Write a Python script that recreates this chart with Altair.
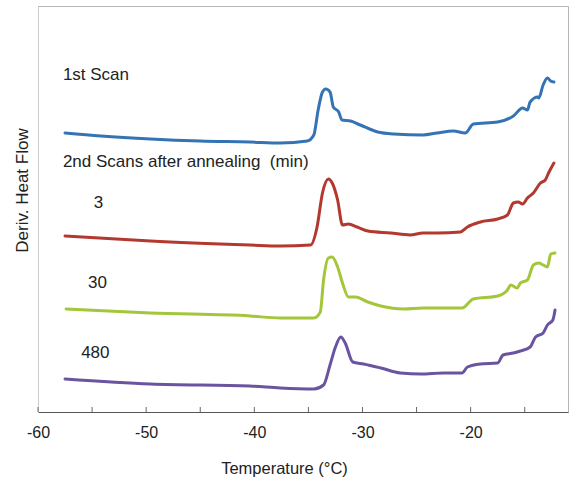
import altair as alt
import pandas as pd

# ---- data (temperature in °C, heat-flow in arbitrary units) ----
scan1_T = [-57.5, -54.2, -49.6, -45.0, -40.4, -37.6, -35.1, -34.5, -34.1, -33.7, -33.4, -33.0, -32.7,
           -32.2, -31.9, -31.1, -30.2, -28.6, -27.1, -24.4, -23.1, -21.6, -20.5, -19.75, -17.5, -16.05,
           -15.2, -14.75, -14.5, -13.8, -13.7, -13.3, -12.9, -12.6, -12.3]
scan1_H = [279, 276, 273, 271, 270, 269, 271, 277, 302, 320, 323, 320, 305,
           300, 292, 291, 287, 280, 278, 277, 279, 281, 279, 288, 290, 296,
           304, 302, 310, 315, 314, 327, 334, 331, 330]

ann3_T = [-57.5, -49.6, -40.4, -37.6, -34.8, -34.2, -33.7, -33.15, -32.8, -32.3, -31.85, -31.3, -30.5,
          -29.5, -27.4, -25.6, -24.4, -23.1, -20.95, -20.3, -19.1, -17.5, -16.6, -16.05, -15.6, -15.2,
          -14.75, -14.2, -13.55, -13.1, -12.8, -12.3]
ann3_H = [176, 171, 167, 166, 167, 185, 219, 233, 229, 212, 187, 188, 185,
          181, 179, 177, 179, 179, 180, 185, 190, 193, 197, 209, 210, 208,
          214, 219, 229, 232, 239, 249]

ann30_T = [-57.4, -49.6, -40.4, -37.6, -34.5, -33.9, -33.6, -33.15, -32.8, -32.3, -31.85, -31.3, -30.65,
           -29.5, -28.3, -26.2, -24.4, -22.8, -20.8, -19.75, -17.5, -16.6, -16.3, -15.7, -15.4, -14.75,
           -14.2, -13.7, -13.3, -12.9, -12.6, -12.2]
ann30_H = [103, 99, 96, 94, 94, 100, 132, 154, 155, 145, 129, 115, 115,
           110, 106, 103, 104, 104, 104, 113, 116, 122, 127, 124, 129, 132,
           147, 149, 147, 145, 158, 159]

ann480_T = [-57.5, -49.6, -40.4, -37.6, -34.5, -33.6, -33.0, -32.5, -32.0, -31.6, -30.9, -29.9, -28.3,
            -26.5, -24.6, -22.5, -20.8, -20.3, -19.1, -17.5, -17.0, -16.05, -15.4, -14.5, -14.0, -13.3,
            -12.9, -12.4, -12.2]
ann480_H = [33, 28, 26, 24, 23, 27, 47, 65, 75, 69, 50, 48, 44,
            39, 38, 39, 39, 45, 48, 49, 57, 59, 61, 65, 75, 79,
            87, 92, 102]

series_names = ["1st Scan", "3", "30", "480"]
series_colors = ["#3474b4", "#b3382f", "#a3c63b", "#6a54a0"]

label_text = ["1st Scan", "2nd Scans after annealing\u00a0\u00a0(min)", "3", "30", "480"]
label_T = [-57.7, -57.7, -54.4, -54.5, -54.7]
label_H = [337, 250, 209, 129, 59]
label_align = ["left", "left", "center", "center", "center"]

x_tick_labels = [-60, -50, -40, -30, -20]
x_minor_ticks = [-60, -55, -50, -45, -40, -35, -30, -25, -20, -15]

# ---- build tables ----
rows = []
for name, T, H in zip(series_names,
                      [scan1_T, ann3_T, ann30_T, ann480_T],
                      [scan1_H, ann3_H, ann30_H, ann480_H]):
    for i, (t, h) in enumerate(zip(T, H)):
        rows.append({"series": name, "T": t, "H": h, "order": i})
df = pd.DataFrame(rows)

labels_df = pd.DataFrame({"text": label_text, "T": label_T, "H": label_H, "align": label_align})
ticks_df = pd.DataFrame({"T": x_minor_ticks})

FONT = "Liberation Sans"
W, H = 530, 406

xscale = alt.Scale(domain=[-60, -11], nice=False, zero=False)
yscale = alt.Scale(domain=[0, 406], nice=False, zero=False)

lines = alt.Chart(df).mark_line(strokeWidth=3, strokeJoin="round", strokeCap="round",
                                interpolate="monotone").encode(
    x=alt.X("T:Q", scale=xscale,
            axis=alt.Axis(values=x_tick_labels, title="Temperature (°C)", grid=False, ticks=False,
                          labelFlush=False, labelExpr="'' + datum.value",
                          domainColor="#555555", domainWidth=1.2,
                          labelFont=FONT, labelFontSize=16, labelColor="#222222", labelPadding=12,
                          titleFont=FONT, titleFontSize=16.5, titleFontWeight="normal", titleColor="#222222",
                          titleX=246, titleY=56, titleBaseline="middle")),
    y=alt.Y("H:Q", scale=yscale,
            axis=alt.Axis(title="Deriv. Heat Flow", labels=False, ticks=False, grid=False,
                          domainColor="#cccccc",
                          titleFont=FONT, titleFontSize=17, titleFontWeight="normal", titleColor="#222222",
                          titleX=-16, titleY=184, titleBaseline="middle", titleAngle=-90)),
    color=alt.Color("series:N", scale=alt.Scale(domain=series_names, range=series_colors), legend=None),
    order="order:Q",
    detail="series:N",
)

ticks = alt.Chart(ticks_df).mark_rule(color="#666666", strokeWidth=1).encode(
    x=alt.X("T:Q", scale=xscale),
    y=alt.value(H),
    y2=alt.value(H - 5),
)

left_labels = alt.Chart(labels_df[labels_df["align"] == "left"]).mark_text(
    font=FONT, fontSize=17, color="#222222", align="left", baseline="middle"
).encode(x=alt.X("T:Q", scale=xscale), y=alt.Y("H:Q", scale=yscale), text="text:N")

center_labels = alt.Chart(labels_df[labels_df["align"] == "center"]).mark_text(
    font=FONT, fontSize=17, color="#222222", align="center", baseline="middle"
).encode(x=alt.X("T:Q", scale=xscale), y=alt.Y("H:Q", scale=yscale), text="text:N")

chart = alt.layer(lines, ticks, left_labels, center_labels).properties(
    width=W, height=H,
    autosize=alt.AutoSizeParams(type="none"),
    padding={"left": 38, "top": 6, "right": 2, "bottom": 67},
    background="white",
).configure_view(stroke="#b5b5b5", strokeWidth=1)

chart.save("out.html", embed_options={"renderer": "svg", "actions": False})
